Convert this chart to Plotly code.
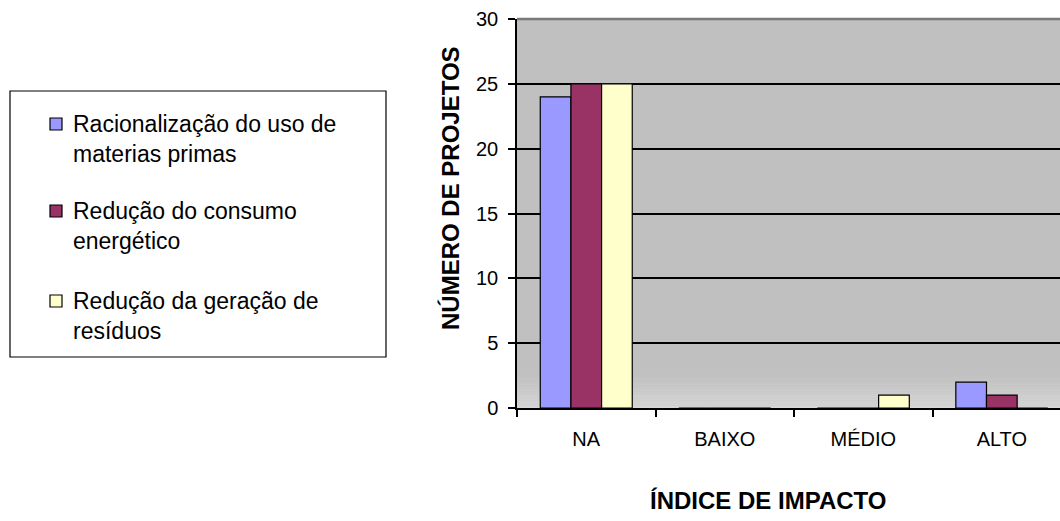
import plotly.graph_objects as go

# Categories and series
categorias = ["NA", "BAIXO", "MÉDIO", "ALTO"]
series = [
    "Racionalização do uso de materias primas",
    "Redução do consumo energético",
    "Redução da geração de resíduos",
]
legenda_linhas = [
    ["Racionalização do uso de", "materias primas"],
    ["Redução do consumo", "energético"],
    ["Redução da geração de", "resíduos"],
]
valores = [
    [24, 0, 0, 2],
    [25, 0, 0, 1],
    [25, 0, 1, 0],
]
cores = ["#9999FF", "#993366", "#FFFFCC"]
y_ticks = [0, 5, 10, 15, 20, 25, 30]

W, H = 1060, 521
ML, MT, MB, MR = 517, 19, 113, 0
PW, PH = W - ML - MR, H - MT - MB


def px_x(p):
    return (p - ML) / PW


def px_y(p):
    return (H - MB - p) / PH


fig = go.Figure()
for nome, vals, cor in zip(series, valores, cores):
    fig.add_trace(go.Bar(
        x=categorias, y=vals, name=nome,
        marker=dict(color=cor, line=dict(color="black", width=1.2)),
        showlegend=False,
    ))

shapes = []
# soft lightening of the background near the baseline
n = 14
for i in range(n):
    t = i / n
    g = int(0xD6 - (0xD6 - 0xC0) * t)
    shapes.append(dict(
        type="rect", xref="paper", yref="y", layer="below",
        x0=0, x1=1, y0=2.6 * i / n, y1=2.6 * (i + 1) / n,
        fillcolor=f"rgb({g},{g},{g})", line=dict(width=0),
    ))
# top edge of the plot area
shapes.append(dict(type="line", xref="paper", yref="paper", x0=0, x1=1, y0=1, y1=1,
                   line=dict(color="#7a7a7a", width=2.5)))

# legend box
shapes.append(dict(type="rect", xref="paper", yref="paper",
                   x0=px_x(10), x1=px_x(386), y0=px_y(91), y1=px_y(357),
                   line=dict(color="black", width=1.2), fillcolor="white"))

annotations = []
item_y = [124, 211, 301]
for linhas, cor, yc in zip(legenda_linhas, cores, item_y):
    shapes.append(dict(type="rect", xref="paper", yref="paper",
                       x0=px_x(50), x1=px_x(62), y0=px_y(yc - 6), y1=px_y(yc + 6),
                       line=dict(color="black", width=1.2), fillcolor=cor))
    for k, linha in enumerate(linhas):
        annotations.append(dict(
            text=linha, xref="paper", yref="paper",
            x=px_x(71), y=px_y(yc + 30 * k), xanchor="left", yanchor="middle",
            showarrow=False, font=dict(family="Liberation Sans, Arial", size=23, color="black"),
        ))

annotations.append(dict(
    text="<b>ÍNDICE DE IMPACTO</b>", xref="paper", yref="paper",
    x=px_x(768), y=px_y(500), xanchor="center", yanchor="middle", showarrow=False,
    font=dict(family="Liberation Sans, Arial", size=24, color="black"),
))
annotations.append(dict(
    text="<b>NÚMERO DE PROJETOS</b>", xref="paper", yref="paper", textangle=-90,
    x=px_x(451), y=px_y(188), xanchor="center", yanchor="middle", showarrow=False,
    font=dict(family="Liberation Sans, Arial", size=24, color="black"),
))

fig.update_layout(
    width=W, height=H,
    margin=dict(l=ML, r=MR, t=MT, b=MB, pad=0),
    paper_bgcolor="white",
    plot_bgcolor="#C0C0C0",
    barmode="group",
    bargap=0.336,
    bargroupgap=0,
    shapes=shapes,
    annotations=annotations,
    font=dict(family="Liberation Sans, Arial", size=20, color="black"),
)
fig.update_xaxes(
    type="category", range=[-0.5, 3.42],
    tickson="boundaries", ticks="outside", ticklen=7, tickwidth=1.5, tickcolor="black",
    showline=True, linecolor="black", linewidth=1.5,
    showgrid=False, ticklabelstandoff=12,
)
fig.update_yaxes(
    range=[0, 30], tickvals=y_ticks, ticks="outside", ticklen=7, tickwidth=1.5,
    tickcolor="black", showline=True, linecolor="black", linewidth=1.5,
    showgrid=True, gridcolor="black", gridwidth=1.5, zeroline=False,
    ticklabelstandoff=6,
)

fig.write_html("out.html")
